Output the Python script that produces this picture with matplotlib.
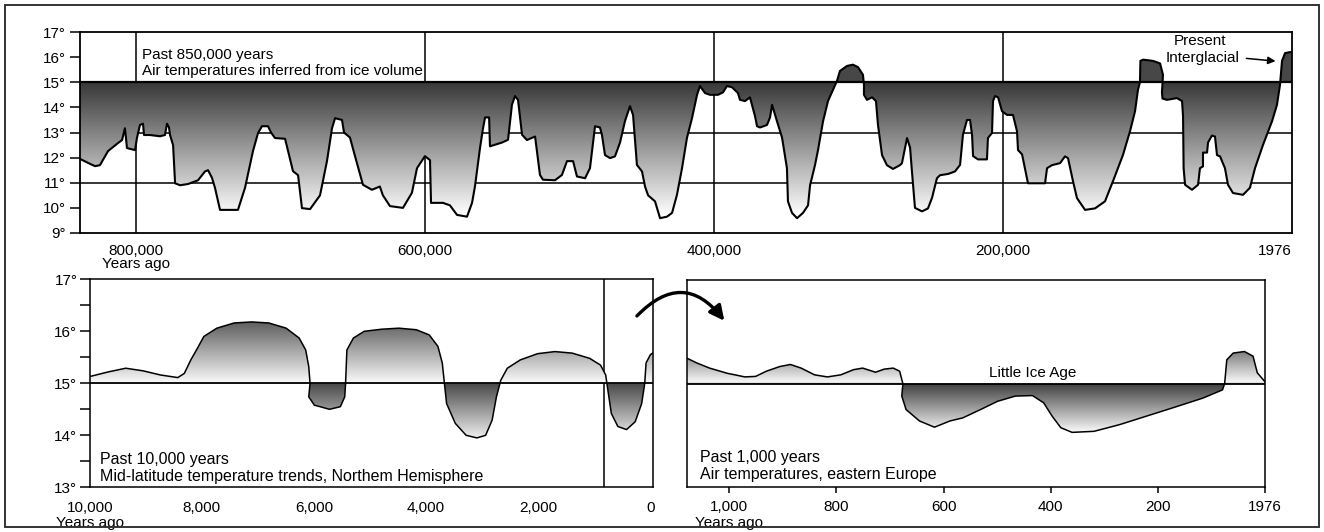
import numpy as np
import matplotlib
matplotlib.use('Agg')
import matplotlib.pyplot as plt
from matplotlib.patches import Polygon, Rectangle, FancyArrowPatch

plt.rcParams['font.family'] = ['Liberation Sans', 'DejaVu Sans']

# past 850,000 years: thousands of years ago, air temperature (deg C)
top_kyr = [838.7, 831.7, 828.3, 824.9, 819.3, 812.4, 809.6, 807.6, 806.2, 800.6,
           799.3, 797.2, 795.1, 794.4, 790.3, 783.3, 779.9, 778.5, 777.1, 776.4,
           774.3, 772.9, 769.5, 763.9, 757.0, 752.2, 750.1, 747.4, 745.3, 741.8,
           729.4, 724.5, 719.0, 715.5, 712.8, 708.6, 706.5, 703.8, 696.8, 691.3,
           687.8, 685.1, 679.5, 672.6, 667.8, 664.3, 662.2, 657.4, 656.0, 651.9,
           648.4, 642.9, 636.7, 631.2, 629.1, 624.2, 615.2, 609.0, 605.5, 600.0,
           596.5, 595.8, 587.5, 582.7, 577.8, 570.9, 567.4, 565.4, 561.9, 559.8,
           558.4, 555.6, 555.0, 546.7, 542.5, 539.8, 537.7, 535.6, 532.8, 529.4,
           523.8, 520.4, 518.3, 510.0, 505.2, 501.7, 497.5, 494.8, 489.2, 485.8,
           482.3, 478.9, 477.5, 475.4, 471.9, 468.5, 465.0, 461.6, 458.1, 456.0,
           453.3, 449.8, 447.7, 445.6, 440.8, 438.7, 437.3, 432.5, 429.0, 425.6,
           422.1, 418.7, 415.2, 411.7, 409.7, 406.2, 402.7, 397.2, 393.7, 391.0,
           387.5, 383.4, 382.0, 378.5, 375.1, 371.6, 370.2, 368.1, 363.3, 361.2,
           359.8, 356.4, 352.9, 349.5, 348.8, 346.0, 342.5, 338.4, 334.9, 333.5,
           330.1, 328.0, 324.5, 321.1, 314.9, 312.8, 307.9, 303.8, 300.3, 296.9,
           296.2, 296.2, 294.1, 290.6, 287.9, 286.5, 283.7, 280.3, 276.1, 271.3,
           269.9, 266.4, 264.3, 263.0, 260.9, 256.0, 251.9, 249.1, 245.7, 243.6,
           238.0, 233.2, 229.7, 227.7, 224.9, 222.8, 221.4, 220.7, 217.3, 211.1,
           210.4, 207.6, 206.9, 205.5, 203.4, 200.7, 197.2, 193.1, 190.3, 189.6,
           186.8, 183.4, 182.7, 170.9, 169.5, 166.1, 160.5, 157.1, 155.0, 151.5,
           148.8, 143.2, 136.3, 129.4, 123.9, 117.0, 112.1, 108.6, 106.6, 105.2,
           104.9, 103.1, 96.2, 91.3, 89.3, 89.6, 90.0, 89.6, 86.5, 79.6,
           76.1, 75.4, 75.0, 74.0, 69.2, 65.0, 63.7, 61.6, 61.6, 58.8,
           58.1, 55.4, 53.3, 51.9, 49.8, 46.4, 44.3, 40.8, 33.9, 29.1,
           25.6, 20.1, 13.8, 10.4, 8.3, 6.9, 4.8, 1.4, 0.0]
top_temp = [11.95, 11.75, 11.66, 11.7, 12.26, 12.58, 12.7, 13.17, 12.38, 12.3,
            12.78, 13.3, 13.35, 12.9, 12.9, 12.85, 12.9, 13.35, 13.2, 12.9,
            12.5, 10.98, 10.9, 10.95, 11.1, 11.45, 11.5, 11.2, 10.8, 9.92,
            9.92, 10.8, 12.26, 12.98, 13.25, 13.25, 13.0, 12.78, 12.75, 11.46,
            11.3, 9.99, 9.95, 10.5, 11.86, 13.17, 13.57, 13.5, 13.0, 12.8,
            12.06, 10.92, 10.72, 10.85, 10.5, 10.07, 10.0, 10.6, 11.58, 12.06,
            11.9, 10.2, 10.2, 10.1, 9.72, 9.65, 10.2, 10.85, 12.38, 13.17,
            13.6, 13.6, 12.45, 12.6, 12.71, 14.1, 14.45, 14.3, 12.91, 12.7,
            12.84, 11.31, 11.12, 11.1, 11.31, 11.86, 11.86, 11.25, 11.18, 11.58,
            13.25, 13.2, 12.9, 12.1, 11.98, 12.05, 12.6, 13.45, 14.05, 13.7,
            11.71, 11.45, 10.85, 10.5, 10.26, 9.86, 9.59, 9.65, 9.8, 10.52,
            11.58, 12.78, 13.57, 14.5, 14.85, 14.57, 14.5, 14.5, 14.6, 14.85,
            14.8, 14.57, 14.3, 14.25, 14.4, 13.65, 13.25, 13.2, 13.3, 13.6,
            14.1, 13.45, 12.8, 11.58, 10.26, 9.8, 9.59, 9.8, 10.1, 10.9,
            11.7, 12.3, 13.45, 14.25, 15.05, 15.45, 15.65, 15.7, 15.6, 15.3,
            14.9, 14.5, 14.3, 14.4, 14.25, 13.3, 12.1, 11.7, 11.55, 11.7,
            11.78, 12.78, 12.4, 11.45, 10.0, 9.86, 9.98, 10.4, 11.18, 11.3,
            11.35, 11.45, 11.71, 12.91, 13.5, 13.5, 12.9, 12.06, 11.93, 11.93,
            12.78, 12.98, 14.25, 14.45, 14.4, 13.85, 13.7, 13.7, 13.05, 12.3,
            12.13, 11.18, 10.98, 10.98, 11.58, 11.7, 11.78, 12.05, 11.98, 11.05,
            10.39, 9.92, 9.98, 10.26, 11.06, 12.1, 13.05, 13.85, 14.7, 15.0,
            15.85, 15.9, 15.85, 15.75, 15.3, 14.95, 14.6, 14.35, 14.3, 14.37,
            14.25, 13.65, 11.58, 10.92, 10.72, 10.92, 11.58, 11.65, 12.2, 12.2,
            12.6, 12.88, 12.84, 12.1, 12.05, 11.58, 10.92, 10.59, 10.52, 10.8,
            11.58, 12.5, 13.45, 14.1, 14.9, 15.85, 16.16, 16.2, 16.2]

# past 10,000 years: years ago, mid-latitude temperature
holo_yr = [10000, 9668, 9359, 9050, 8740, 8430, 8314, 8198, 8082, 7966,
           7734, 7425, 7115, 6806, 6497, 6265, 6148, 6094, 6071, 6094,
           5994, 5723, 5530, 5452, 5437, 5414, 5298, 5104, 4795, 4486,
           4176, 3944, 3790, 3712, 3674, 3635, 3480, 3287, 3094, 2939,
           2823, 2746, 2668, 2552, 2320, 2011, 1701, 1392, 1083, 889,
           797, 758, 696, 580, 425, 271, 155, 100, 77, 0, -39]
holo_temp = [15.13, 15.22, 15.29, 15.24, 15.16, 15.11, 15.19, 15.45, 15.67, 15.9,
             16.06, 16.16, 16.18, 16.16, 16.06, 15.87, 15.64, 15.32, 15.0, 14.74,
             14.58, 14.5, 14.55, 14.74, 15.0, 15.64, 15.87, 16.0, 16.04, 16.06,
             16.03, 15.93, 15.71, 15.39, 15.0, 14.61, 14.23, 14.0, 13.95, 14.0,
             14.29, 14.74, 15.06, 15.29, 15.45, 15.57, 15.61, 15.58, 15.48, 15.35,
             15.16, 14.87, 14.42, 14.17, 14.11, 14.26, 14.61, 15.0, 15.39, 15.55, 15.58]

# past 1,000 years: years ago, eastern Europe temperature
mill_yr = [1079, 1061, 1037, 1004, 971, 951, 931, 906, 886, 866,
           841, 817, 792, 768, 751, 727, 711, 694, 682, 676,
           678, 670, 645, 617, 588, 564, 531, 499, 466, 434,
           413, 397, 381, 360, 319, 271, 222, 173, 116, 79,
           75, 71, 59, 38, 22, 14, 0]
mill_temp = [15.49, 15.4, 15.3, 15.2, 15.13, 15.14, 15.24, 15.33, 15.37, 15.3,
             15.17, 15.13, 15.17, 15.27, 15.3, 15.22, 15.28, 15.3, 15.24, 15.0,
             14.76, 14.5, 14.28, 14.16, 14.28, 14.34, 14.5, 14.66, 14.76, 14.77,
             14.63, 14.37, 14.15, 14.06, 14.08, 14.21, 14.37, 14.53, 14.72, 14.88,
             15.0, 15.46, 15.59, 15.62, 15.53, 15.21, 15.04]

top_ticks = [800, 600, 400, 200, 0]
top_ticklabels = ['800,000', '600,000', '400,000', '200,000', '1976']
top_yticks = [9, 10, 11, 12, 13, 14, 15, 16, 17]
holo_ticks = [10000, 8000, 6000, 4000, 2000, 0]
holo_ticklabels = ['10,000', '8,000', '6,000', '4,000', '2,000', '0']
holo_yticks = [13, 14, 15, 16, 17]
mill_ticks = [1000, 800, 600, 400, 200, 0]
mill_ticklabels = ['1,000', '800', '600', '400', '200', '1976']

W, H = 1324, 532
FS = 11
fig = plt.figure(figsize=(W / 100, H / 100), dpi=100)


def box(l, t, r, b):
    return [l / W, 1 - b / H, (r - l) / W, (b - t) / H]


def shade(ax, x, y, xlim, ylim, gray_fn, base=15.0):
    # gradient image clipped to the area between the curve and the 15 deg line
    x = np.asarray(x, float)
    y = np.asarray(y, float)
    pts = np.column_stack([np.r_[x, x[-1], x[0]], np.r_[y, base, base]])
    poly = Polygon(pts, closed=True, facecolor='none', edgecolor='none')
    ax.add_patch(poly)
    t = np.linspace(ylim[0], ylim[1], 500)
    g = np.clip(gray_fn(t), 0, 1)
    img = np.repeat(g[:, None], 2, axis=1)
    im = ax.imshow(img, cmap='gray', vmin=0, vmax=1, origin='lower',
                   extent=[xlim[0], xlim[1], ylim[0], ylim[1]],
                   aspect='auto', interpolation='bilinear', zorder=2)
    im.set_clip_path(poly)
    ax.set_xlim(*xlim)
    ax.set_ylim(*ylim)


def frame(ax, lw=1.3):
    for s in ax.spines.values():
        s.set_linewidth(lw)
        s.set_zorder(6)


# ---- top panel
ax1 = fig.add_axes(box(80, 32, 1292, 233))
xl1 = (838.7, 0)
for v in top_ticks[:-1]:
    ax1.axvline(v, color='black', lw=1.1, zorder=1)
for v in [11, 13]:
    ax1.axhline(v, color='black', lw=1.1, zorder=1)
shade(ax1, top_kyr, top_temp, xl1, (9, 17),
      lambda t: np.where(t < 15, 0.22 + (15 - t) / 5.2 * 0.76, 0.28))
ax1.axhline(15, color='black', lw=1.6, zorder=4)
ax1.plot(top_kyr, top_temp, color='black', lw=1.5, zorder=5)
ax1.set_xticks(top_ticks)
ax1.set_xticklabels(top_ticklabels)
ax1.get_xticklabels()[-1].set_ha('right')
ax1.set_yticks(top_yticks)
ax1.set_yticklabels([f'{v}°' for v in top_yticks])
ax1.tick_params(axis='y', direction='out', length=7, width=1.1, pad=3, labelsize=FS)
ax1.tick_params(axis='x', length=0, pad=8, labelsize=FS)
frame(ax1)
ax1.text(795.8, 16.08, 'Past 850,000 years', fontsize=FS, va='center', ha='left', zorder=7)
ax1.text(795.8, 15.44, 'Air temperatures inferred from ice volume', fontsize=FS,
         va='center', ha='left', zorder=7)
ax1.text(63.7, 16.63, 'Present', fontsize=FS, va='center', ha='center', zorder=7)
ax1.text(61.6, 15.96, 'Interglacial', fontsize=FS, va='center', ha='center', zorder=7)
ax1.annotate('', xy=(9.5, 15.83), xytext=(33.5, 15.96),
             arrowprops=dict(arrowstyle='-|>', color='black', lw=1.1, mutation_scale=11),
             zorder=7)
ax1.annotate('Years ago', xy=(800, 0), xycoords=('data', 'axes fraction'),
             xytext=(0, -22), textcoords='offset points', ha='center', va='center',
             fontsize=FS)

# ---- bottom left panel
ax2 = fig.add_axes(box(89.8, 279.3, 652.6, 487.3))
xl2 = (10000, -40)
ax2.axvline(828, color='black', lw=1.1, zorder=1)
shade(ax2, holo_yr, holo_temp, xl2, (13, 17),
      lambda t: np.where(t >= 15, 0.98 - (t - 15) * 0.52, 0.28 + (15 - t) * 0.62))
ax2.axhline(15, color='black', lw=1.3, zorder=4)
ax2.plot(holo_yr, holo_temp, color='black', lw=1.1, zorder=5)
ax2.set_xticks(holo_ticks)
ax2.set_xticklabels(holo_ticklabels)
ax2.set_yticks(holo_yticks)
ax2.set_yticklabels([f'{v}°' for v in holo_yticks])
ax2.set_yticks([13.5, 14.5, 15.5, 16.5], minor=True)
ax2.tick_params(axis='y', which='both', direction='out', length=7, width=1.1, pad=2,
                labelsize=FS)
ax2.tick_params(axis='x', length=0, pad=10, labelsize=FS)
frame(ax2, 1.1)
ax2.text(9823, 13.53, 'Past 10,000 years', fontsize=FS + 0.5, va='center', ha='left')
ax2.text(9823, 13.2, 'Mid-latitude temperature trends, Northem Hemisphere',
         fontsize=FS + 0.5, va='center', ha='left')
ax2.annotate('Years ago', xy=(10000, 0), xycoords=('data', 'axes fraction'),
             xytext=(0, -26), textcoords='offset points', ha='center', va='center',
             fontsize=FS)

# ---- bottom right panel
ax3 = fig.add_axes(box(687.1, 280, 1264.8, 487.3))
xl3 = (1079, 0)
shade(ax3, mill_yr, mill_temp, xl3, (13, 17),
      lambda t: np.where(t >= 15, 0.98 - (t - 15) * 0.8, 0.24 + (15 - t) * 0.78))
ax3.axhline(15, color='black', lw=1.3, zorder=4)
ax3.plot(mill_yr, mill_temp, color='black', lw=1.1, zorder=5)
ax3.set_xticks(mill_ticks)
ax3.set_xticklabels(mill_ticklabels)
ax3.set_yticks([])
ax3.tick_params(axis='x', direction='out', length=4, width=1.1, pad=5, labelsize=FS)
frame(ax3, 1.1)
ax3.text(1055, 13.57, 'Past 1,000 years', fontsize=FS + 0.5, va='center', ha='left')
ax3.text(1055, 13.24, 'Air temperatures, eastern Europe', fontsize=FS + 0.5,
         va='center', ha='left')
ax3.text(434, 15.2, 'Little Ice Age', fontsize=FS, va='center', ha='center', zorder=7)
ax3.annotate('Years ago', xy=(1000, 0), xycoords=('data', 'axes fraction'),
             xytext=(0, -26), textcoords='offset points', ha='center', va='center',
             fontsize=FS)

# curved arrow between the lower panels
arrow = FancyArrowPatch((635 / W, 1 - 318 / H), (726 / W, 1 - 323 / H),
                        transform=fig.transFigure, connectionstyle='arc3,rad=-0.6',
                        arrowstyle='-|>', mutation_scale=22, lw=2.4, color='black')
fig.patches.append(arrow)

# outer frame
fig.patches.append(Rectangle((5 / W, 5 / H), 1314 / W, 522 / H, transform=fig.transFigure,
                             fill=False, edgecolor='#333333', lw=1.4))

fig.savefig('out.png', dpi=100, facecolor='white')
